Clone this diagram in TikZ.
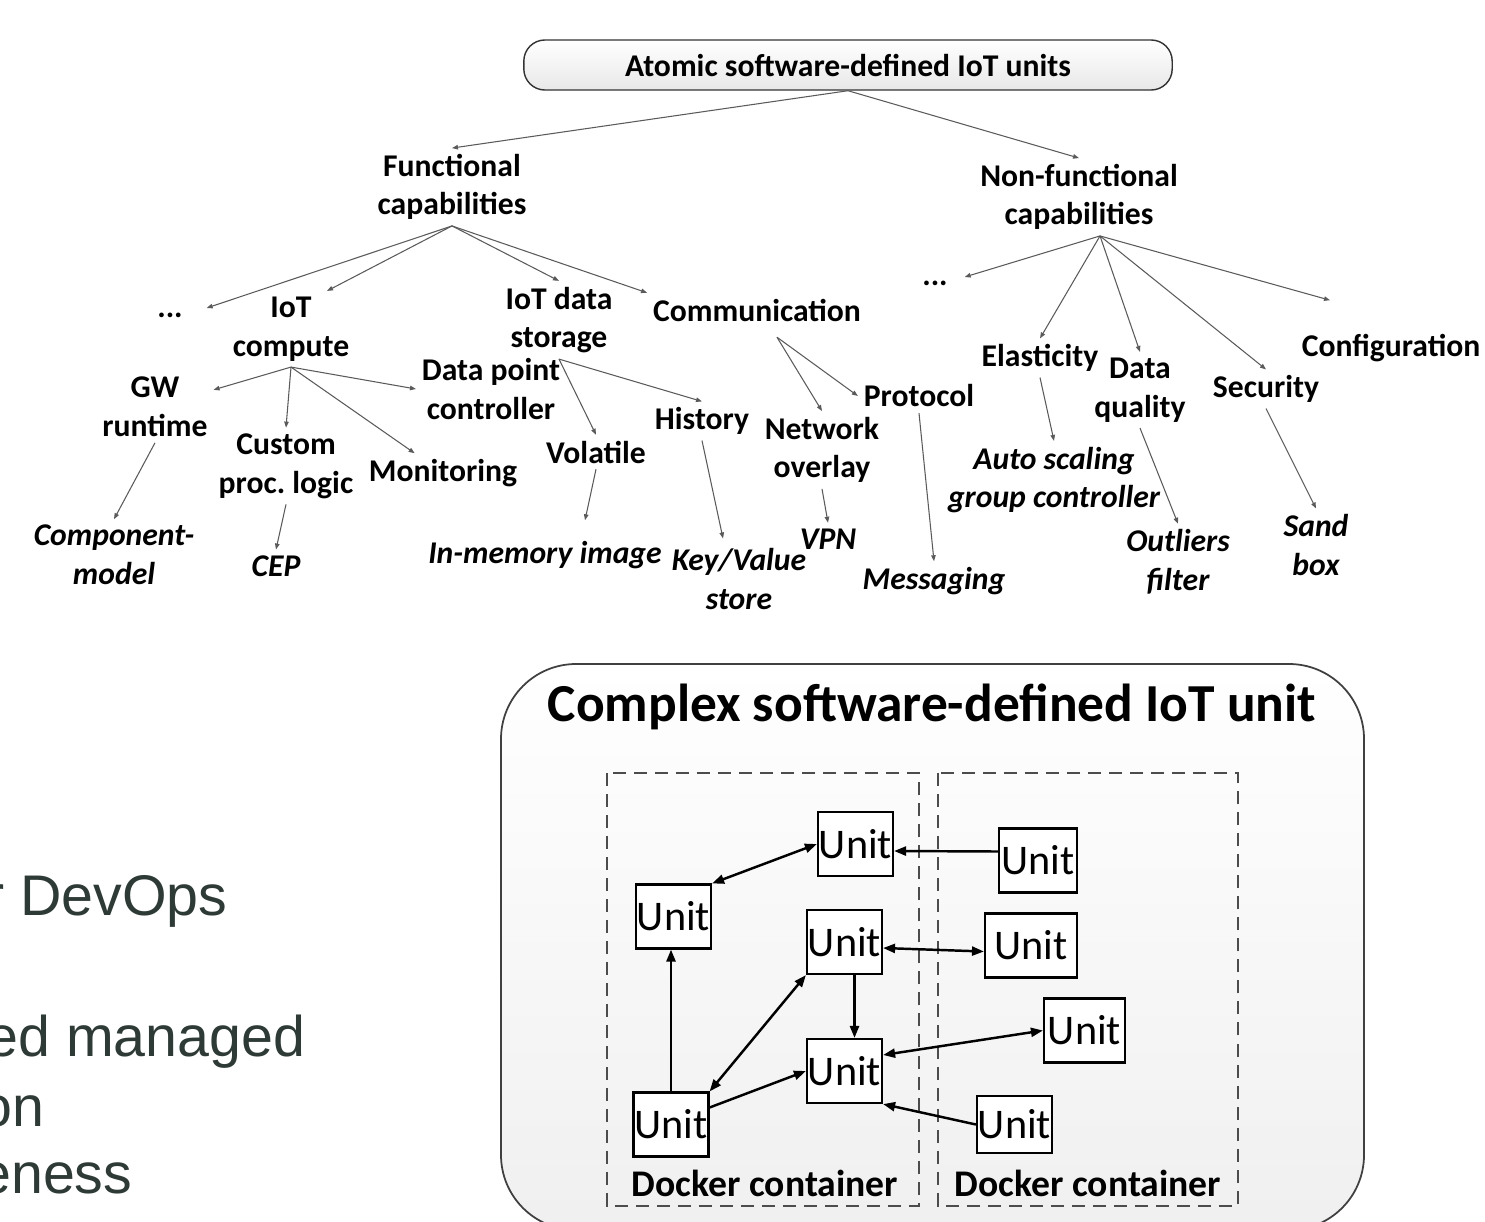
\documentclass[tikz,border=0pt]{standalone}
\usepackage{fontspec}
\setmainfont{Carlito}
\newfontfamily\slidefont{Liberation Sans}
\usetikzlibrary{arrows.meta}
\definecolor{slidetext}{RGB}{46,58,54}
\definecolor{edgegray}{RGB}{90,90,90}
\frenchspacing

\begin{document}
\begin{tikzpicture}[x=0.01cm, y=-0.01cm,
  every node/.style={align=center},
  % Root of the taxonomy
  root/.style={rectangle, draw=gray!40!black, thin, rounded corners=6pt, top color=white, bottom color=gray!18, minimum width=6.48cm, minimum height=0.5cm, font=\fontsize{9}{11}\selectfont\bfseries},
  % Capability names
  capname/.style={inner sep=1.5pt, font=\fontsize{9}{11}\selectfont\bfseries},
  % Concrete examples (leaves)
  leaf/.style={capname, font=\fontsize{9}{11}\selectfont\bfseries\itshape},
  % Taxonomy edges
  edge/.style={draw=edgegray, line width=0.3pt, -{Triangle[length=0.6mm, width=0.45mm]}},
  % Units and their containers
  unit/.style={rectangle, draw, fill=white, line width=0.6pt, inner sep=0pt, minimum width=0.75cm, minimum height=0.64cm, font=\fontsize{12}{14}\selectfont},
  container/.style={draw=gray!60!black, line width=0.45pt, dash pattern=on 1.3mm off 0.8mm},
  dock/.style={font=\fontsize{10.7}{12}\selectfont\bfseries},
  link/.style={line width=0.7pt, -{Triangle[length=1.2mm, width=0.9mm]}},
  twoway/.style={line width=0.7pt, {Triangle[length=1.2mm, width=0.9mm]}-{Triangle[length=1.2mm, width=0.9mm]}},
  % Slide text cut by the left edge
  slide/.style={anchor=base east, inner sep=0pt, text=slidetext, font=\slidefont\fontsize{16.3}{19}\selectfont}
]
\useasboundingbox (0,0) rectangle (1485,1221);
\clip (0,0) rectangle (1485,1221);

% === Taxonomy: root and the two branches ===
\node[root] (root) at (848,65) {Atomic software-defined IoT units};
\node[capname] (func) at (452,187) {Functional\\capabilities};
\node[capname] (nonf) at (1079,197) {Non-functional\\capabilities};

\draw[edge] (root.south) -- (func.north);
\draw[edge] (root.south) -- (nonf.north);

% === Functional capabilities ===
\node[capname] (fdots) at (170,315) {...};
\node[capname] (iotc) at (291,329) {IoT\\compute};
\node[capname] (iotd) at (559,320) {IoT data\\storage};
\node[capname] (comm) at (757,310) {Communication};
\node[capname] (gw) at (155,407) {GW\\runtime};
\node[capname] (cust) at (286,466) {Custom\\proc. logic};
\node[capname] (mon) at (443,473) {Monitoring};
\node[capname] (dpc) at (491,389) {Data point\\controller};
\node[capname] (vol) at (596,452) {Volatile};
\node[capname] (hist) at (702,421) {History};
\node[capname] (netw) at (822,450) {Network\\overlay};
\node[capname] (prot) at (919,396) {Protocol};

% examples
\node[leaf] (comp) at (114,555) {Component-\\model};
\node[leaf] (cep) at (276,566) {CEP};
\node[leaf] (inmem) at (545,555) {In-memory image};
\node[leaf] (kv) at (739,579) {Key/Value\\store};
\node[leaf] (vpn) at (828,539) {VPN};
\node[leaf] (msg) at (934,581) {Messaging};

\draw[edge] (func.south) -- ([shift={(18,-7)}]fdots.east);
\draw[edge] (func.south) -- ([shift={(36,0)}]iotc.north);
\draw[edge] (func.south) -- (iotd.north);
\draw[edge] (func.south) -- (comm.north west);

\draw[edge] (iotc.south) -- (gw);
\draw[edge] (iotc.south) -- (cust.north);
\draw[edge] (iotc.south) -- (mon);
\draw[edge] (iotc.south) -- (dpc.west);
\draw[edge] (gw.south) -- (comp.north);
\draw[edge] (cust.south) -- (cep.north);

\draw[edge] (iotd.south) -- (vol.north);
\draw[edge] (iotd.south) -- (hist.north);
\draw[edge] (vol.south) -- ([shift={(40,-15)}]inmem.north);
\draw[edge] (hist.south) -- ([shift={(-16,-4)}]kv.north);

\draw[edge] ([shift={(20,10)}]comm.south) -- (netw.north);
\draw[edge] ([shift={(20,10)}]comm.south) -- (prot.west);
\draw[edge] (netw.south) -- (vpn.north);
\draw[edge] (prot.south) -- (msg.north);

% === Non-functional capabilities ===
\node[capname] (ndots) at (935,283) {...};
\node[capname] (elas) at (1040,358) {Elasticity};
\node[capname] (dq) at (1140,390) {Data\\quality};
\node[capname] (sec) at (1266,389) {Security};
\node[capname] (conf) at (1391,348) {Configuration};
\node[leaf] (auto) at (1054,480) {Auto scaling\\group controller};
\node[leaf] (outl) at (1178,562) {Outliers\\filter};
\node[leaf] (sand) at (1316,545) {Sand\\box};

\draw[edge] ([shift={(21,0)}]nonf.south) -- ([shift={(11,-6)}]ndots.east);
\draw[edge] ([shift={(21,0)}]nonf.south) -- (elas.north);
\draw[edge] ([shift={(21,0)}]nonf.south) -- (dq.north);
\draw[edge] ([shift={(21,0)}]nonf.south) -- (sec.north);
\draw[edge] ([shift={(21,0)}]nonf.south) -- ([shift={(-61,-28)}]conf.north);
\draw[edge] (elas.south) -- (auto.north);
\draw[edge] (dq.south) -- (outl.north);
\draw[edge] (sec.south) -- (sand.north);

% === Complex unit ===
\path[draw=gray!50!black, line width=0.5pt, rounded corners=0.75cm, top color=white, bottom color=gray!12]
  (501,664) rectangle (1364,1230);
\node[font=\fontsize{15.2}{18}\selectfont\bfseries] (title) at (932,707) {Complex software-defined IoT unit};

\draw[container] (607,773) rectangle (919,1206);
\draw[container] (938,773) rectangle (1238,1206);
\node[dock] (dock1) at (765,1183) {Docker container};
\node[dock] (dock2) at (1088,1183) {Docker container};

\node[unit] (ua) at (855.5,844) {Unit};
\node[unit] (ub) at (673.5,916.5) {Unit};
\node[unit] (uc) at (844.5,942) {Unit};
\node[unit] (ud) at (844.5,1071) {Unit};
\node[unit] (ue) at (671,1124.5) {Unit};
\node[unit, minimum width=0.78cm] (uf) at (1038,860.5) {Unit};
\node[unit, minimum width=0.92cm] (ug) at (1031,945.5) {Unit};
\node[unit, minimum width=0.81cm] (uh) at (1084.5,1030.5) {Unit};
\node[unit, minimum height=0.57cm] (ui) at (1014.5,1124.5) {Unit};

\draw[twoway] (ub.north east) -- (ua.west);
\draw[link] ([shift={(0,-9)}]uf.west) -- ([shift={(0,7)}]ua.east);
\draw[twoway] ([shift={(0,6)}]uc.east) -- ([shift={(0,6)}]ug.west);
\draw[link] ([shift={(10,0)}]uc.south) -- ([shift={(10,0)}]ud.north);
\draw[link] (ue.north) -- (ue.north |- ub.south);
\draw[twoway] (ue.north east) -- (uc.south west);
\draw[link] ([shift={(0,-17)}]ue.east) -- (ud.west);
\draw[twoway] ([shift={(0,-16)}]ud.east) -- (uh.west);
\draw[link] (ui.west) -- (ud.south east);

% === Slide text ===
\node[slide] (txt1) at (228,915) {r DevOps};
\node[slide] (txt2) at (306,1056) {ed managed};
\node[slide] (txt3) at (45,1126) {on};
\node[slide] (txt4) at (133,1193) {eness};

\end{tikzpicture}
\end{document}
